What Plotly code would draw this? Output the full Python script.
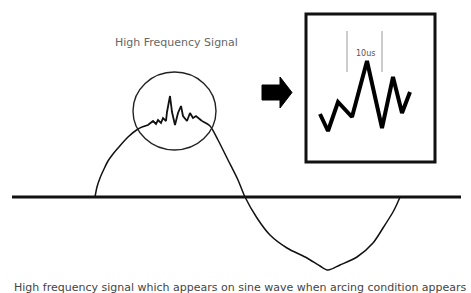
import plotly.graph_objects as go

# Main waveform (x: horizontal position, y: amplitude above the baseline)
# left rising part of the positive half
hump_left_x = [95, 97, 100, 104, 108, 113, 118, 128, 138, 142]
hump_left_y = [0, 10, 19, 28, 36, 43, 49, 60, 68, 70]
# high frequency noise riding on the crest
noise_x = [142, 148, 153, 156, 158, 161, 163, 166, 167, 170,
           172, 175, 178, 181, 183, 187, 190, 193, 196, 202]
noise_y = [70, 72, 76, 73, 77, 74, 79, 76, 85, 101,
           85, 72, 84, 91, 81, 76, 84, 79, 81, 76]
# falling part, negative half and return to baseline
fall_x = [202, 210, 218, 228, 238, 245, 257, 270, 287, 307, 320, 328,
          340, 357, 373, 383, 393, 397, 400]
fall_y = [76, 71, 57, 37, 17, 0, -21, -38, -51, -61, -69, -73,
          -68, -60, -46, -31, -15, -7, 0]

# Baseline
base_x = [12, 461]
base_y = [0, 0]

# Zoomed-in high frequency signal (inset)
inset_x = [320, 328, 338, 352, 367, 382, 393, 402, 410]
inset_y = [83, 66, 95, 80, 136, 69, 120, 84, 105]

# 10us markers
marker_left_x = [347, 347]
marker_right_x = [382, 382]
marker_y = [166, 125]

# Arrow outline
arrow_x = [262, 280, 280, 292, 280, 280, 262, 262]
arrow_y = [112, 112, 120, 104.5, 89, 97, 97, 112]

# Circle & inset box bounds
circle_bounds = dict(x0=133, x1=216, y0=47, y1=125)
box_bounds = dict(x0=306, x1=435, y0=35, y1=183)

title_text = "High Frequency Signal"
marker_text = "10us"
caption_text = "High frequency signal which appears on sine wave when arcing condition appears"

fig = go.Figure()
fig.add_trace(go.Scatter(x=base_x, y=base_y, mode="lines",
                         line=dict(color="#111", width=3), hoverinfo="skip"))
fig.add_trace(go.Scatter(x=hump_left_x, y=hump_left_y, mode="lines",
                         line=dict(color="#111", width=1.5, shape="spline", smoothing=0.8),
                         hoverinfo="skip"))
fig.add_trace(go.Scatter(x=noise_x, y=noise_y, mode="lines",
                         line=dict(color="#111", width=1.8), hoverinfo="skip"))
fig.add_trace(go.Scatter(x=fall_x, y=fall_y, mode="lines",
                         line=dict(color="#111", width=1.5, shape="spline", smoothing=0.8),
                         hoverinfo="skip"))
fig.add_trace(go.Scatter(x=inset_x, y=inset_y, mode="lines",
                         line=dict(color="#000", width=4), hoverinfo="skip"))
fig.add_trace(go.Scatter(x=marker_left_x, y=marker_y, mode="lines",
                         line=dict(color="#999", width=1), hoverinfo="skip"))
fig.add_trace(go.Scatter(x=marker_right_x, y=marker_y, mode="lines",
                         line=dict(color="#999", width=1), hoverinfo="skip"))
fig.add_trace(go.Scatter(x=arrow_x, y=arrow_y, mode="lines", fill="toself",
                         fillcolor="#000", line=dict(color="#000", width=1), hoverinfo="skip"))

fig.add_shape(type="circle", xref="x", yref="y", **circle_bounds,
              line=dict(color="#222", width=1.4))
fig.add_shape(type="rect", xref="x", yref="y", **box_bounds,
              line=dict(color="#111", width=3))

fig.add_annotation(x=176, y=155, text=title_text, showarrow=False,
                   font=dict(family="DejaVu Sans", size=11, color="#666"))
fig.add_annotation(x=365, y=144, text=marker_text, showarrow=False,
                   font=dict(family="DejaVu Sans", size=8, color="#555"))
fig.add_annotation(x=240, y=-90, text=caption_text, showarrow=False,
                   font=dict(family="DejaVu Sans", size=11, color="#444"))

fig.update_layout(
    width=471, height=293,
    margin=dict(l=0, r=0, t=0, b=0),
    paper_bgcolor="white", plot_bgcolor="white",
    showlegend=False,
    xaxis=dict(range=[0, 471], visible=False, fixedrange=True),
    yaxis=dict(range=[-96, 197], visible=False, fixedrange=True),
)

fig.write_html("out.html", config={"displayModeBar": False},
               post_script="document.body.style.margin='0';")
